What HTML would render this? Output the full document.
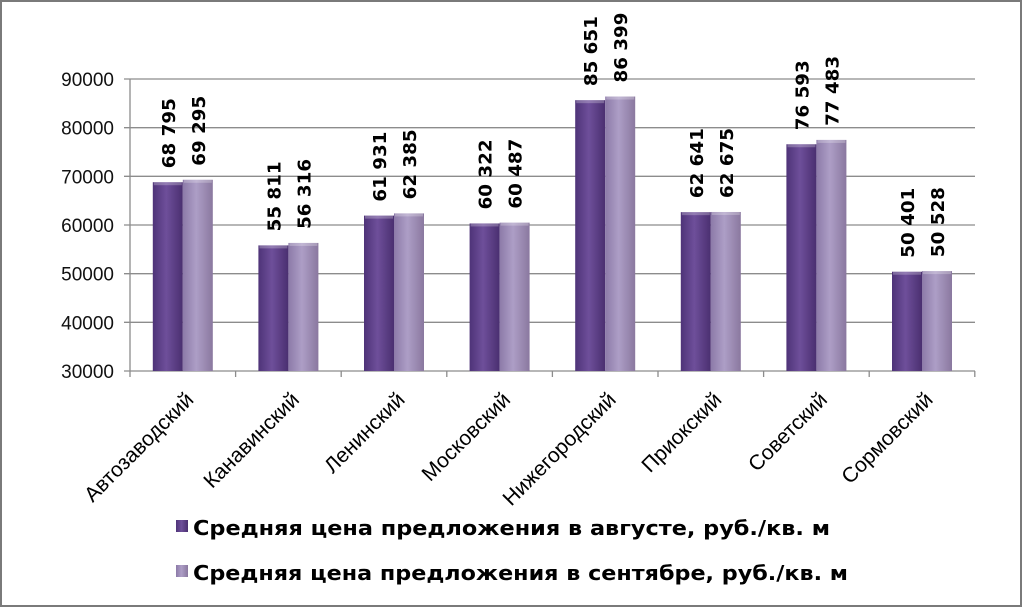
<!DOCTYPE html>
<html><head><meta charset="utf-8"><style>
html,body{margin:0;padding:0;background:#fff;}
svg{display:block;}
</style></head><body>
<svg width="1024" height="609" xmlns="http://www.w3.org/2000/svg">
<defs>
<linearGradient id="ga" x1="0" x2="1" y1="0" y2="0">
<stop offset="0" stop-color="#4e3378"/><stop offset="0.45" stop-color="#6e4f9a"/><stop offset="1" stop-color="#4a2f70"/>
</linearGradient>
<linearGradient id="gs" x1="0" x2="1" y1="0" y2="0">
<stop offset="0" stop-color="#8c7aa8"/><stop offset="0.45" stop-color="#ad9ec6"/><stop offset="1" stop-color="#8a789f"/>
</linearGradient>
</defs>
<rect x="1" y="1" width="1020" height="605" fill="#fff" stroke="#7a7a7a" stroke-width="2"/>
<g stroke="#8c8c8c" stroke-width="1.3">
<line x1="124" y1="79" x2="975" y2="79"/>
<line x1="124" y1="127.7" x2="975" y2="127.7"/>
<line x1="124" y1="176.3" x2="975" y2="176.3"/>
<line x1="124" y1="225" x2="975" y2="225"/>
<line x1="124" y1="273.7" x2="975" y2="273.7"/>
<line x1="124" y1="322.3" x2="975" y2="322.3"/>
<line x1="124" y1="371" x2="975" y2="371"/>
<line x1="130" y1="79" x2="130" y2="371"/>
</g>
<g stroke="#8c8c8c" stroke-width="1.3" id="ticks"></g>
<g font-family="'Liberation Sans','DejaVu Sans',sans-serif" font-size="19" fill="#111" text-anchor="end">
<text x="114" y="86">90000</text>
<text x="114" y="134.7">80000</text>
<text x="114" y="183.3">70000</text>
<text x="114" y="232">60000</text>
<text x="114" y="280.7">50000</text>
<text x="114" y="329.3">40000</text>
<text x="114" y="378">30000</text>
</g>
<g id="bars"></g>
<g font-family="'DejaVu Sans','Liberation Sans',sans-serif" font-weight="bold" font-size="20" fill="#000">
<rect x="176" y="520" width="12" height="12" fill="url(#ga)"/>
<text x="193" y="535" textLength="637" lengthAdjust="spacingAndGlyphs">Средняя цена предложения в августе, руб./кв. м</text>
<rect x="176" y="565" width="12" height="12" fill="url(#gs)"/>
<text x="193" y="580" textLength="655" lengthAdjust="spacingAndGlyphs">Средняя цена предложения в сентябре, руб./кв. м</text>
</g>
<script>
var ns="http://www.w3.org/2000/svg";
var names=["Автозаводский","Канавинский","Ленинский","Московский","Нижегородский","Приокский","Советский","Сормовский"];
var a=[68795,55811,61931,60322,85651,62641,76593,50401];
var s=[69295,56316,62385,60487,86399,62675,77483,50528];
var W=105.6,x0=130,y=function(v){return 371-(v-30000)*48.667/10000;};
var bars=document.getElementById("bars"),tk=document.getElementById("ticks");
function el(t,at,txt){var e=document.createElementNS(ns,t);for(var k in at)e.setAttribute(k,at[k]);if(txt)e.textContent=txt;return e;}
function fmt(v){var t=String(v);return t.slice(0,t.length-3)+" "+t.slice(-3);}
for(var i=0;i<=8;i++){tk.appendChild(el("line",{x1:x0+i*W,y1:371,x2:x0+i*W,y2:377}));}
for(var i=0;i<8;i++){
 var c=x0+W*i+W/2;
 [[a[i],c-30,"url(#ga)"],[s[i],c,"url(#gs)"]].forEach(function(d){
  var yy=y(d[0]);
  bars.appendChild(el("rect",{x:d[1],y:yy,width:30,height:371-yy,fill:d[2]}));
  bars.appendChild(el("rect",{x:d[1]+1,y:yy,width:28,height:3,fill:"#fff","fill-opacity":0.25}));
  var lx=d[1]+15+7;
  bars.appendChild(el("text",{x:0,y:0,transform:"translate("+lx+","+(yy-14)+") rotate(-90)","font-family":"'DejaVu Sans','Liberation Sans',sans-serif","font-weight":"bold","font-size":"18",fill:"#000",textLength:"70",lengthAdjust:"spacingAndGlyphs"},fmt(d[0])));
 });
 bars.appendChild(el("text",{x:0,y:0,transform:"translate("+(c+12)+",401) rotate(-45)","text-anchor":"end","font-family":"'Liberation Sans','DejaVu Sans',sans-serif","font-size":"21",fill:"#000"},names[i]));
}
</script>
</svg>
</body></html>
